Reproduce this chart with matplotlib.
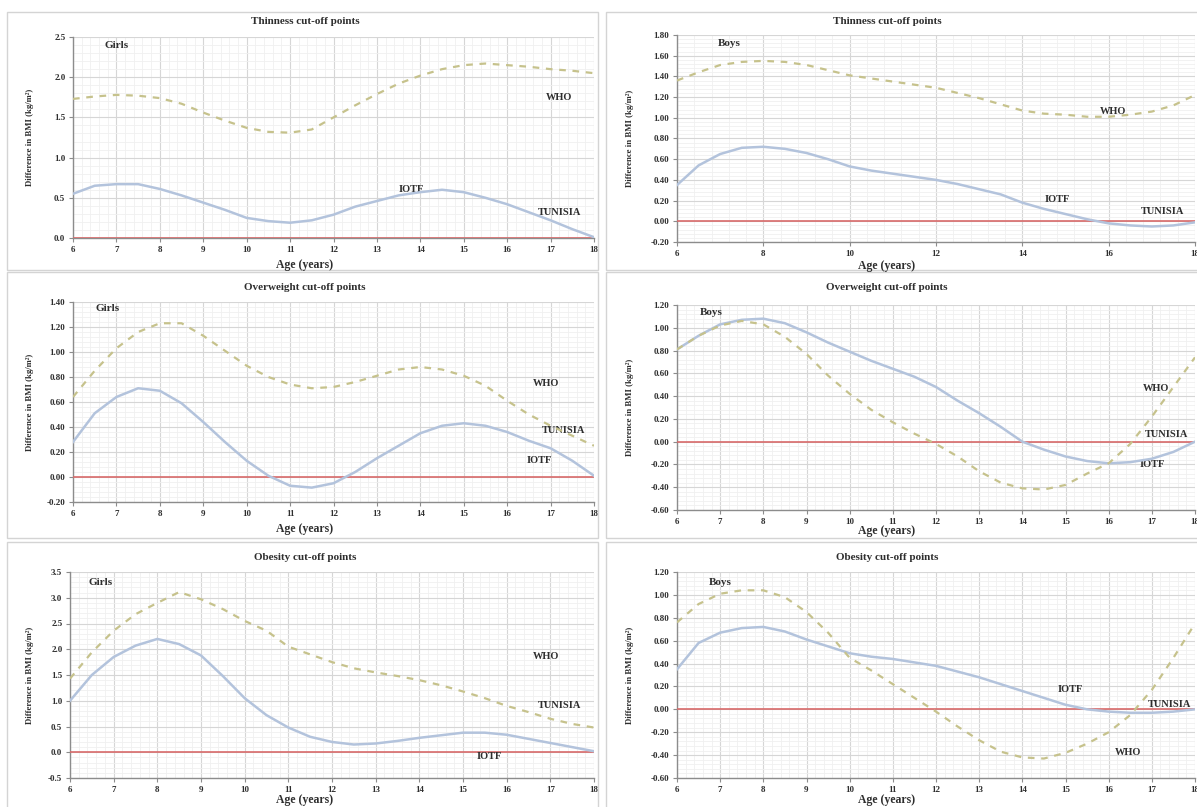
import matplotlib
matplotlib.use('Agg')
import matplotlib.pyplot as plt
from matplotlib.patches import Rectangle
from matplotlib.ticker import MultipleLocator

plt.rcParams['font.family'] = ['Liberation Serif', 'DejaVu Serif']
plt.rcParams['font.weight'] = 'bold'

# ages read every half year
ages = [6, 6.5, 7, 7.5, 8, 8.5, 9, 9.5, 10, 10.5, 11, 11.5, 12,
        12.5, 13, 13.5, 14, 14.5, 15, 15.5, 16, 16.5, 17, 17.5, 18]
tunisia = [0.0] * len(ages)

# thinness, girls
who_thin_girls = [1.73, 1.76, 1.78, 1.77, 1.74, 1.67, 1.56, 1.46, 1.37, 1.32, 1.31, 1.35, 1.50,
                  1.65, 1.79, 1.92, 2.02, 2.10, 2.15, 2.17, 2.15, 2.13, 2.10, 2.08, 2.05]
iotf_thin_girls = [0.55, 0.65, 0.67, 0.67, 0.61, 0.53, 0.44, 0.35, 0.25, 0.21, 0.19, 0.22, 0.29,
                   0.39, 0.46, 0.53, 0.57, 0.60, 0.57, 0.50, 0.42, 0.32, 0.22, 0.11, 0.01]
# thinness, boys
who_thin_boys = [1.36, 1.44, 1.51, 1.54, 1.55, 1.54, 1.51, 1.46, 1.41, 1.38, 1.35, 1.32, 1.29,
                 1.24, 1.19, 1.13, 1.07, 1.04, 1.03, 1.01, 1.01, 1.03, 1.06, 1.12, 1.22]
iotf_thin_boys = [0.35, 0.54, 0.65, 0.71, 0.72, 0.70, 0.66, 0.60, 0.53, 0.49, 0.46, 0.43, 0.40,
                  0.36, 0.31, 0.26, 0.18, 0.12, 0.07, 0.02, -0.02, -0.04, -0.05, -0.04, -0.01]
# overweight, girls
who_ow_girls = [0.64, 0.85, 1.03, 1.16, 1.23, 1.23, 1.13, 1.01, 0.89, 0.80, 0.74, 0.71, 0.72,
                0.76, 0.81, 0.86, 0.88, 0.86, 0.81, 0.73, 0.61, 0.50, 0.41, 0.33, 0.25]
iotf_ow_girls = [0.28, 0.51, 0.64, 0.71, 0.69, 0.59, 0.44, 0.28, 0.13, 0.01, -0.07, -0.085, -0.05,
                 0.04, 0.15, 0.25, 0.35, 0.41, 0.43, 0.41, 0.36, 0.29, 0.23, 0.13, 0.01]
# overweight, boys
who_ow_boys = [0.81, 0.93, 1.02, 1.06, 1.03, 0.92, 0.77, 0.58, 0.42, 0.28, 0.17, 0.07, -0.02,
               -0.13, -0.26, -0.36, -0.41, -0.42, -0.38, -0.28, -0.19, -0.02, 0.22, 0.48, 0.74]
iotf_ow_boys = [0.81, 0.93, 1.03, 1.07, 1.08, 1.04, 0.96, 0.87, 0.79, 0.71, 0.64, 0.57, 0.48,
                0.36, 0.25, 0.13, 0.0, -0.07, -0.13, -0.17, -0.19, -0.18, -0.15, -0.09, 0.0]
# obesity, girls
who_ob_girls = [1.43, 1.94, 2.36, 2.68, 2.90, 3.11, 2.97, 2.78, 2.55, 2.36, 2.05, 1.90, 1.75,
                1.63, 1.55, 1.48, 1.40, 1.30, 1.18, 1.05, 0.90, 0.78, 0.65, 0.55, 0.48]
iotf_ob_girls = [1.00, 1.50, 1.85, 2.07, 2.20, 2.10, 1.88, 1.48, 1.05, 0.72, 0.48, 0.30, 0.20,
                 0.15, 0.17, 0.22, 0.28, 0.33, 0.38, 0.38, 0.34, 0.26, 0.18, 0.10, 0.02]
# obesity, boys
who_ob_boys = [0.76, 0.92, 1.01, 1.04, 1.04, 0.98, 0.85, 0.67, 0.45, 0.34, 0.22, 0.10, -0.02,
               -0.15, -0.27, -0.37, -0.42, -0.43, -0.38, -0.30, -0.20, -0.05, 0.17, 0.45, 0.75]
iotf_ob_boys = [0.35, 0.58, 0.67, 0.71, 0.72, 0.68, 0.61, 0.55, 0.49, 0.46, 0.44, 0.41, 0.38,
                0.33, 0.28, 0.22, 0.16, 0.10, 0.04, 0.00, -0.02, -0.03, -0.03, -0.02, 0.00]

titles = ['Thinness cut-off points', 'Thinness cut-off points',
          'Overweight cut-off points', 'Overweight cut-off points',
          'Obesity cut-off points', 'Obesity cut-off points']
sexes = ['Girls', 'Boys', 'Girls', 'Boys', 'Girls', 'Boys']
who_series = [who_thin_girls, who_thin_boys, who_ow_girls, who_ow_boys, who_ob_girls, who_ob_boys]
iotf_series = [iotf_thin_girls, iotf_thin_boys, iotf_ow_girls, iotf_ow_boys, iotf_ob_girls, iotf_ob_boys]
y_ranges = [(0.0, 2.5, 0.5), (-0.2, 1.8, 0.2), (-0.2, 1.4, 0.2),
            (-0.6, 1.2, 0.2), (-0.5, 3.5, 0.5), (-0.6, 1.2, 0.2)]
y_fmt = ['{:.1f}', '{:.2f}', '{:.2f}', '{:.2f}', '{:.1f}', '{:.2f}']
x_step = [1, 2, 1, 1, 1, 1]
# label positions (age, value) for Girls/Boys, WHO, IOTF, TUNISIA
sex_pos = [(7.0, 2.4), (7.2, 1.72), (6.8, 1.35), (6.8, 1.13), (6.7, 3.29), (7.0, 1.11)]
who_pos = [(17.2, 1.75), (16.1, 1.06), (16.9, 0.75), (17.1, 0.47), (16.9, 1.85), (16.45, -0.38)]
iotf_pos = [(13.8, 0.60), (14.8, 0.21), (16.75, 0.13), (17.0, -0.20), (15.6, -0.09), (15.1, 0.17)]
tun_pos = [(17.2, 0.32), (17.25, 0.09), (17.3, 0.37), (17.35, 0.06), (17.2, 0.90), (17.4, 0.04)]

W, H = 1197, 807
fig = plt.figure(figsize=(W / 100, H / 100), dpi=100)

# pixel boxes of the plot areas: left, top, right, bottom
boxes = [(73, 37, 594, 238), (677, 35, 1195, 242),
         (73, 302, 594, 502), (677, 305, 1195, 510),
         (70, 572, 594, 778), (677, 572, 1195, 778)]
frames = [(7, 12, 598, 270), (606, 12, 1205, 270),
          (7, 272, 598, 538), (606, 272, 1205, 538),
          (7, 542, 598, 812), (606, 542, 1205, 812)]
title_y = [22, 22, 288, 288, 558, 558]
xlab_y = [265, 266, 529, 531, 800, 800]
centers = [305, 887]

who_col = '#c6c28c'
iotf_col = '#b3c3dc'
red_col = '#d86a6a'
txt_col = '#2e2e2e'

for i in range(6):
    fl, ft, fr, fb = frames[i]
    fig.patches.append(Rectangle((fl / W, 1 - fb / H), (fr - fl) / W, (fb - ft) / H,
                                 transform=fig.transFigure, fill=False,
                                 edgecolor='#d4d4d4', linewidth=1.0))
    l, t, r, b = boxes[i]
    ax = fig.add_axes([l / W, 1 - b / H, (r - l) / W, (b - t) / H])
    ymin, ymax, ystep = y_ranges[i]
    n = int(round((ymax - ymin) / ystep))
    yt = [round(ymin + k * ystep, 2) for k in range(n + 1)]
    ax.set_yticks(yt)
    ax.set_yticklabels([y_fmt[i].format(v) for v in yt])
    ax.set_xlim(6, 18)
    ax.set_ylim(ymin, ymax)
    ax.xaxis.set_major_locator(MultipleLocator(x_step[i]))
    ax.xaxis.set_minor_locator(MultipleLocator(x_step[i] / 5))
    ax.yaxis.set_minor_locator(MultipleLocator(ystep / 5))
    ax.grid(which='major', color='#d6d6d6', linewidth=0.8)
    ax.grid(which='minor', color='#f0f0f0', linewidth=0.6)
    ax.set_axisbelow(True)
    for s in ['top', 'right']:
        ax.spines[s].set_visible(False)
    for s in ['left', 'bottom']:
        ax.spines[s].set_color('#8c8c8c')
        ax.spines[s].set_linewidth(1.0)
    ax.tick_params(which='major', direction='out', length=3, width=0.8, color='#8c8c8c',
                   labelsize=6.5, labelcolor=txt_col, pad=2.5)
    ax.tick_params(which='minor', length=0)

    ax.plot(ages, tunisia, color=red_col, linewidth=1.2, zorder=3)
    ax.plot(ages, iotf_series[i], color=iotf_col, linewidth=1.8, zorder=4)
    ax.plot(ages, who_series[i], color=who_col, linewidth=1.6, dashes=(3, 3), zorder=5)

    ax.text(*sex_pos[i], sexes[i], fontsize=8, color=txt_col, ha='center', va='center')
    ax.text(*who_pos[i], 'WHO', fontsize=7.5, color=txt_col, ha='center', va='center')
    ax.text(*iotf_pos[i], 'IOTF', fontsize=7.5, color=txt_col, ha='center', va='center')
    ax.text(*tun_pos[i], 'TUNISIA', fontsize=7.5, color=txt_col, ha='center', va='center',
            clip_on=False)

    cx = centers[i % 2]
    fig.text(cx / W, 1 - title_y[i] / H, titles[i], fontsize=8, color=txt_col,
             ha='center', va='center')
    fig.text(cx / W, 1 - xlab_y[i] / H, 'Age (years)', fontsize=8.5, color=txt_col,
             ha='center', va='center')
    ylx = 30 if i % 2 == 0 else 630
    fig.text(ylx / W, 1 - (t + b) / 2 / H, 'Difference in BMI (kg/m²)',
             fontsize=6.3, color=txt_col, rotation=90, ha='center', va='center')

fig.savefig('out.png', dpi=100)
